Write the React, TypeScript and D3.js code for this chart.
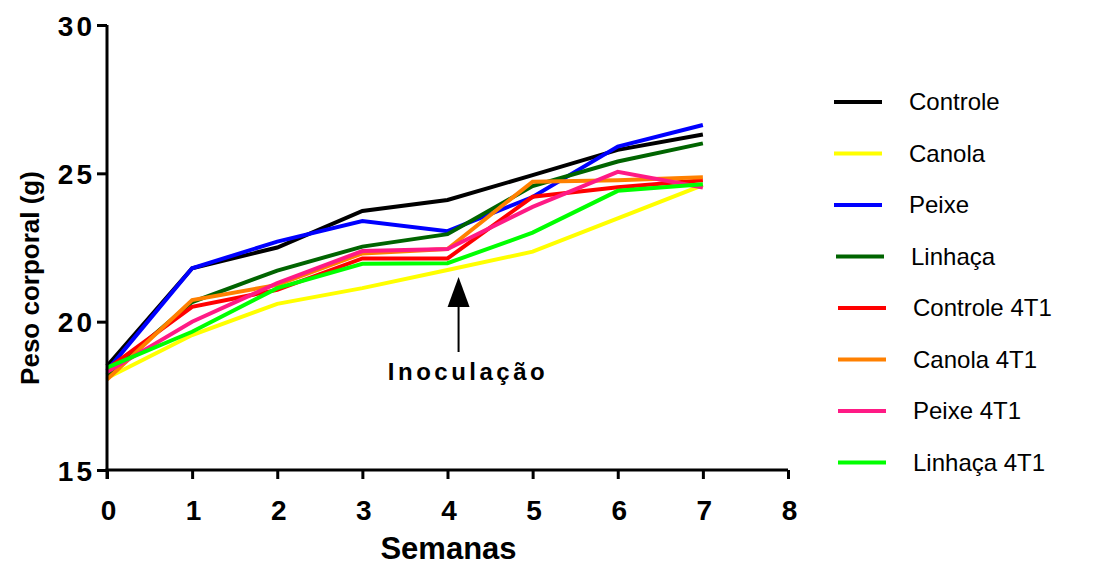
import { useEffect, useRef } from "react";
import * as d3 from "d3";

const weeks = [0, 1, 2, 3, 4, 5, 6, 7];
const seriesNames = ["Controle", "Canola", "Peixe", "Linhaça", "Controle 4T1", "Canola 4T1", "Peixe 4T1", "Linhaça 4T1"];
const seriesColors = ["#000000", "#ffff00", "#0000ff", "#006400", "#ff0000", "#ff8000", "#ff1a85", "#00ff00"];

const controle = [18.5, 21.8, 22.5, 23.73, 24.1, 24.94, 25.79, 26.31];
const canola = [18.1, 19.55, 20.6, 21.13, 21.74, 22.36, 23.48, 24.6];
const peixe = [18.35, 21.8, 22.7, 23.39, 23.05, 24.2, 25.9, 26.63];
const linhaca = [18.2, 20.66, 21.72, 22.53, 22.95, 24.57, 25.4, 26.01];
const controle4T1 = [18.4, 20.5, 21.07, 22.13, 22.13, 24.21, 24.53, 24.77];
const canola4T1 = [18.05, 20.73, 21.24, 22.3, 22.45, 24.72, 24.77, 24.87];
const peixe4T1 = [18.3, 20.0, 21.3, 22.38, 22.45, 23.87, 25.05, 24.52];
const linhaca4T1 = [18.45, 19.66, 21.13, 21.95, 21.97, 23.0, 24.41, 24.63];

const allSeries = [controle, canola, peixe, linhaca, controle4T1, canola4T1, peixe4T1, linhaca4T1];
const xTicks = [0, 1, 2, 3, 4, 5, 6, 7, 8];
const yTicks = [15, 20, 25, 30];
const inoculationWeek = 4.13;

export default function App() {
  const ref = useRef<SVGSVGElement>(null);

  useEffect(() => {
    const svg = d3.select(ref.current);
    svg.selectAll("*").remove();
    const font = "'Liberation Sans', Arial, sans-serif";

    const x = d3.scaleLinear().domain([0, 8]).range([107, 788]);
    const y = d3.scaleLinear().domain([15, 30]).range([470, 25]);

    // lines
    const line = d3.line<number>().x((d, i) => x(weeks[i])).y(d => y(d));
    allSeries.forEach((s, i) => {
      svg.append("path")
        .datum(s)
        .attr("fill", "none")
        .attr("stroke", seriesColors[i])
        .attr("stroke-width", 4)
        .attr("d", line);
    });

    // axes
    const xAxis = svg.append("g")
      .attr("transform", `translate(0,${y(15)})`)
      .call(d3.axisBottom(x).tickValues(xTicks).tickSize(9).tickSizeOuter(0).tickFormat(d3.format("d")));
    const yAxis = svg.append("g")
      .attr("transform", `translate(${x(0)},0)`)
      .call(d3.axisLeft(y).tickValues(yTicks).tickSize(10).tickSizeOuter(0).tickFormat(d3.format("d")));
    [xAxis, yAxis].forEach(g => {
      g.select(".domain").attr("stroke", "#000").attr("stroke-width", 3);
      g.selectAll(".tick line").attr("stroke", "#000").attr("stroke-width", 3);
      g.selectAll(".tick text")
        .attr("fill", "#000")
        .style("font-family", font)
        .style("font-size", "28px")
        .style("font-weight", "bold");
    });
    xAxis.selectAll(".tick text").attr("dy", null).attr("y", 50).attr("dx", 1);
    yAxis.selectAll(".tick text").attr("x", -12).attr("dy", "0.36em").style("letter-spacing", "3px");
    xAxis.select(".domain").attr("d", `M${x(0) - 1.5},0H${x(8)}`);
    yAxis.select(".domain").attr("d", `M0,${y(15) + 9}V${y(30)}`);

    svg.append("text")
      .attr("x", x(4) + 1)
      .attr("y", 559)
      .attr("text-anchor", "middle")
      .style("font-family", font)
      .style("font-size", "31px")
      .style("font-weight", "bold")
      .text("Semanas");

    svg.append("text")
      .attr("transform", `translate(39,278) rotate(-90)`)
      .attr("text-anchor", "middle")
      .style("font-family", font)
      .style("font-size", "26px")
      .style("font-weight", "bold")
      .text("Peso corporal (g)");

    // inoculation arrow
    const ax = x(inoculationWeek);
    svg.append("line")
      .attr("x1", ax).attr("x2", ax)
      .attr("y1", 352).attr("y2", 300)
      .attr("stroke", "#000").attr("stroke-width", 2);
    svg.append("path")
      .attr("d", `M${ax},277L${ax - 11},307L${ax + 11},307Z`)
      .attr("fill", "#000");
    svg.append("text")
      .attr("x", 468)
      .attr("y", 380)
      .attr("text-anchor", "middle")
      .style("font-family", font)
      .style("font-size", "24px")
      .style("font-weight", "bold")
      .style("letter-spacing", "3.5px")
      .text("Inoculação");

    // legend
    const legend = svg.append("g");
    seriesNames.forEach((name, i) => {
      const shift = i >= 4 ? 4 : i === 3 ? 2 : 0;
      const ly = 102 + i * 51.5;
      legend.append("line")
        .attr("x1", 834 + shift).attr("x2", 882 + shift)
        .attr("y1", ly).attr("y2", ly)
        .attr("stroke", seriesColors[i]).attr("stroke-width", 4);
      legend.append("text")
        .attr("x", 909 + shift)
        .attr("y", ly)
        .attr("dy", "0.35em")
        .style("font-family", font)
        .style("font-size", "24px")
        .text(name);
    });
  }, []);

  return (
    <svg ref={ref} width={1103} height={567} style={{ position: "absolute", left: 0, top: 0, background: "#fff" }} />
  );
}
